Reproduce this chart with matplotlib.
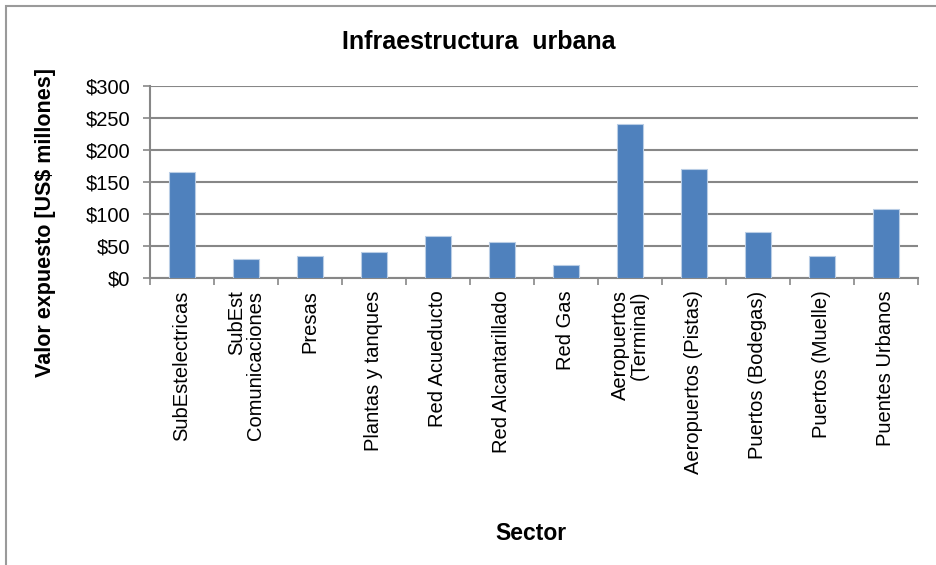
import matplotlib
matplotlib.use("Agg")
import matplotlib.pyplot as plt
from matplotlib.patches import Rectangle
import numpy as np

categories = ["SubEstelectricas", "SubEst\nComunicaciones", "Presas", "Plantas y tanques",
              "Red Acueducto", "Red Alcantarillado", "Red Gas", "Aeropuertos\n(Terminal)",
              "Aeropuertos (Pistas)", "Puertos (Bodegas)", "Puertos (Muelle)", "Puentes Urbanos"]
values = [166, 29, 35, 41, 66, 56, 20, 240, 170, 72, 35, 108]
yticks = [0, 50, 100, 150, 200, 250, 300]
ytick_labels = ["$0", "$50", "$100", "$150", "$200", "$250", "$300"]

plt.rcParams['font.family'] = ['Liberation Sans', 'DejaVu Sans']

fig = plt.figure(figsize=(9.37, 5.65), dpi=100)
ax = fig.add_axes([150/937, 1-278/565, (918-150)/937, (278-86)/565])

x = np.arange(len(categories))
ax.bar(x, values, width=0.4, color="#4F81BD", edgecolor="#B9CDE5", linewidth=0.8, zorder=3)

ax.set_xlim(-0.5, len(categories)-0.5)
ax.set_ylim(0, 300)
ax.set_yticks(yticks)
ax.set_yticklabels(ytick_labels, fontsize=14.5)
ax.yaxis.grid(True, color="#878787", linewidth=1.5, zorder=0)
ax.set_axisbelow(True)

ax.set_xticks(x)
ax.set_xticklabels(categories, rotation=90, fontsize=14.5, va="top", ha="center",
                   multialignment="right", linespacing=1.0)
ax.tick_params(axis="x", length=0, pad=9)
ax.set_xticks(np.arange(-0.5, len(categories), 1.0), minor=True)
ax.tick_params(axis="x", which="minor", length=5, color="#878787", width=1.2, direction="out")
ax.tick_params(axis="y", length=5, color="#878787", width=1.2, direction="out", pad=9)

for s in ["top", "right"]:
    ax.spines[s].set_visible(False)
for s in ["left", "bottom"]:
    ax.spines[s].set_color("#878787")
    ax.spines[s].set_linewidth(1.5)

fig.text(479/937, 1-42/565, "Infraestructura  urbana", ha="center", va="center",
         fontsize=18, fontweight="bold")
fig.text(46/937, 1-222/565, "Valor expuesto [US$ millones]", ha="center", va="center",
         rotation=90, fontsize=15.5, fontweight="bold")
fig.text(531/937, 1-534/565, "Sector", ha="center", va="center",
         fontsize=16.5, fontweight="bold")

# chart-area border
fig.patches.append(Rectangle((6/937, -0.05), 1.2, 1-6/565+0.05, transform=fig.transFigure,
                             fill=False, edgecolor="#9a9a9a", linewidth=1.5))

fig.savefig("out.png", dpi=100)
